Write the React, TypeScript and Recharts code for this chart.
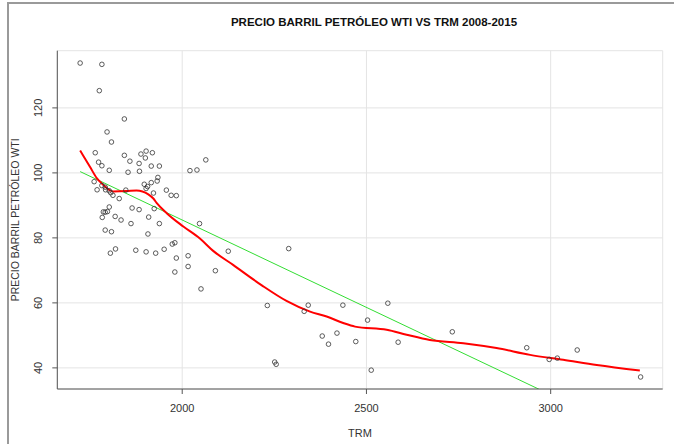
import React from "react";
import {
  ComposedChart,
  Scatter,
  Line,
  XAxis,
  YAxis,
  CartesianGrid,
  Label,
} from "recharts";

const FONT = '"Liberation Sans", Arial, Helvetica, sans-serif';

// TRM (COP/USD) vs WTI monthly observations
const trm = [
  1723, 1782, 1775, 1843, 1796, 1808, 1764, 1773, 1782, 1802,
  1843, 1858, 1888, 1902, 1919, 1900, 1883, 1916, 1938, 1853,
  1884, 2021, 2040, 2064, 1761, 1782, 1769, 1791, 1792, 1802,
  1806, 1812, 1829, 1847, 1897, 1906, 1902, 1916, 1932, 1934,
  1922, 1957, 1970, 1984, 1802, 1786, 1791, 1797, 1783, 1818,
  1834, 1864, 1883, 1924, 1909, 1861, 1938, 1791, 1808, 1907,
  2047, 1805, 1819, 1874, 1902, 1928, 1951, 1973, 1980, 1984,
  2016, 2016, 1980, 2090, 2125, 2051, 2289, 2231, 2251, 2255,
  2331, 2342, 2380, 2397, 2420, 2436, 2471, 2503, 2513, 2558,
  2586, 2733, 2935, 2996, 3018, 3072, 3244,
];
const wti = [
  133.8, 133.4, 125.3, 116.6, 112.6, 109.5, 106.2, 103.3, 102.2, 100.8,
  105.4, 103.6, 105.8, 106.7, 106.2, 104.6, 102.9, 102.1, 102.1, 100.2,
  100.5, 100.7, 100.9, 104.0, 97.3, 96.1, 94.8, 95.6, 94.8, 94.5,
  93.9, 93.1, 92.1, 94.7, 96.5, 95.8, 95.2, 97.0, 97.5, 98.6,
  93.8, 94.7, 93.1, 93.0, 89.5, 88.0, 87.9, 88.1, 86.3, 86.6,
  85.5, 89.2, 88.7, 89.0, 86.4, 84.4, 84.4, 82.4, 81.9, 81.2,
  84.4, 75.3, 76.6, 76.2, 75.7, 75.3, 76.5, 78.1, 78.5, 73.8,
  74.5, 71.2, 69.5, 69.9, 75.9, 64.3, 76.7, 59.2, 41.8, 41.1,
  57.4, 59.3, 49.8, 47.3, 50.7, 59.3, 48.1, 54.7, 39.3, 59.9,
  47.9, 51.1, 46.2, 42.6, 43.0, 45.5, 37.2,
];

// loess smooth (red)
const loessTrm = [
  1723, 1750, 1768, 1786, 1804, 1813, 1849, 1876, 1908, 1921,
  1931, 1958, 2003, 2048, 2084, 2138, 2216, 2283, 2347, 2392,
  2437, 2469, 2555, 2609, 2672, 2763, 2853, 2944, 3034, 3125, 3242,
];
const loessWti = [
  106.9, 101.8, 98.4, 96.3, 94.6, 94.3, 94.4, 94.6, 93.4, 92.2,
  90.7, 87.6, 83.5, 79.8, 76.0, 71.7, 65.4, 60.6, 57.3, 55.8,
  53.8, 52.7, 51.7, 50.2, 48.6, 47.6, 46.1, 44.0, 42.5, 40.9, 39.2,
];

// linear fit (green)
const fitTrm = [1723, 3244];
const fitWti = [100.4, 18.6];

const xTicks = [2000, 2500, 3000];
const yTicks = [40, 60, 80, 100, 120];

const points = trm.map((x, i) => ({ x, y: wti[i] }));
const loess = loessTrm.map((x, i) => ({ x, y: loessWti[i] }));
const fit = fitTrm.map((x, i) => ({ x, y: fitWti[i] }));

const X_DOMAIN: [number, number] = [1661, 3304];
const Y_DOMAIN: [number, number] = [33.5, 137.6];

const XTick = (props: any) => {
  const { x, y, payload } = props;
  return (
    <text x={x} y={y + 16} textAnchor="middle" fontSize={11} fill="#333" fontFamily={FONT}>
      {payload.value}
    </text>
  );
};

const YTick = (props: any) => {
  const { x, y, payload } = props;
  const tx = x - 8;
  return (
    <text
      x={tx}
      y={y}
      transform={`rotate(-90 ${tx} ${y})`}
      textAnchor="middle"
      fontSize={11}
      fill="#333"
      fontFamily={FONT}
    >
      {payload.value}
    </text>
  );
};

export default function App() {
  return (
    <div
      style={{
        position: "absolute",
        left: 0,
        top: 0,
        width: 674,
        height: 444,
        background: "#fff",
        fontFamily: FONT,
      }}
    >
      {/* screenshot frame */}
      <div
        style={{
          position: "absolute",
          left: 7,
          top: 2,
          width: 667,
          height: 442,
          borderTop: "2px solid #9a9a9a",
          borderLeft: "2px solid #9a9a9a",
        }}
      />
      <div
        style={{
          position: "absolute",
          left: 71,
          width: 606,
          top: 15,
          textAlign: "center",
          fontSize: 11.5,
          fontWeight: "bold",
          color: "#111",
          lineHeight: "14px",
        }}
      >
        PRECIO BARRIL PETRÓLEO WTI VS TRM 2008-2015
      </div>
      <ComposedChart
        width={674}
        height={444}
        margin={{ top: 50.7, right: 11.3, bottom: 0, left: 0 }}
        style={{ position: "absolute", left: 0, top: 0 }}
      >
        <CartesianGrid stroke="#e4e4e4" strokeWidth={1} />
        <XAxis
          type="number"
          dataKey="x"
          domain={X_DOMAIN}
          allowDataOverflow
          ticks={xTicks}
          height={55}
          tickSize={5}
          tick={<XTick />}
          stroke="#555"
          axisLine={{ stroke: "#555" }}
          tickLine={{ stroke: "#555" }}
        >
          <Label
            content={({ viewBox }: any) => (
              <text
                x={viewBox.x + viewBox.width / 2}
                y={viewBox.y + 48}
                textAnchor="middle"
                fontSize={11}
                fill="#333"
                fontFamily={FONT}
              >
                TRM
              </text>
            )}
          />
        </XAxis>
        <XAxis
          xAxisId="top"
          orientation="top"
          type="number"
          domain={X_DOMAIN}
          allowDataOverflow
          height={0}
          tick={false}
          tickLine={false}
          axisLine={{ stroke: "#555" }}
        />
        <YAxis
          type="number"
          dataKey="y"
          domain={Y_DOMAIN}
          allowDataOverflow
          ticks={yTicks}
          width={57.3}
          tickSize={5}
          tick={<YTick />}
          axisLine={{ stroke: "#555" }}
          tickLine={{ stroke: "#555" }}
        >
          <Label
            content={({ viewBox }: any) => {
              const cx = 19;
              const cy = viewBox.y + viewBox.height / 2;
              return (
                <text
                  x={cx}
                  y={cy}
                  transform={`rotate(-90 ${cx} ${cy})`}
                  textAnchor="middle"
                  fontSize={10.5}
                  fill="#333"
                  fontFamily={FONT}
                >
                  PRECIO BARRIL PETRÓLEO WTI
                </text>
              );
            }}
          />
        </YAxis>
        <YAxis
          yAxisId="right"
          orientation="right"
          type="number"
          domain={Y_DOMAIN}
          allowDataOverflow
          width={0}
          tick={false}
          tickLine={false}
          axisLine={{ stroke: "#555" }}
        />
        <Scatter
          data={points}
          isAnimationActive={false}
          shape={(p: any) => (
            <circle cx={p.cx} cy={p.cy} r={2.3} fill="none" stroke="#333" strokeWidth={0.8} />
          )}
        />
        <Line
          data={fit}
          dataKey="y"
          type="linear"
          stroke="#33dd33"
          strokeWidth={1}
          dot={false}
          activeDot={false}
          isAnimationActive={false}
        />
        <Line
          data={loess}
          dataKey="y"
          type="monotone"
          stroke="#ff0000"
          strokeWidth={2}
          dot={false}
          activeDot={false}
          isAnimationActive={false}
        />
      </ComposedChart>
    </div>
  );
}
